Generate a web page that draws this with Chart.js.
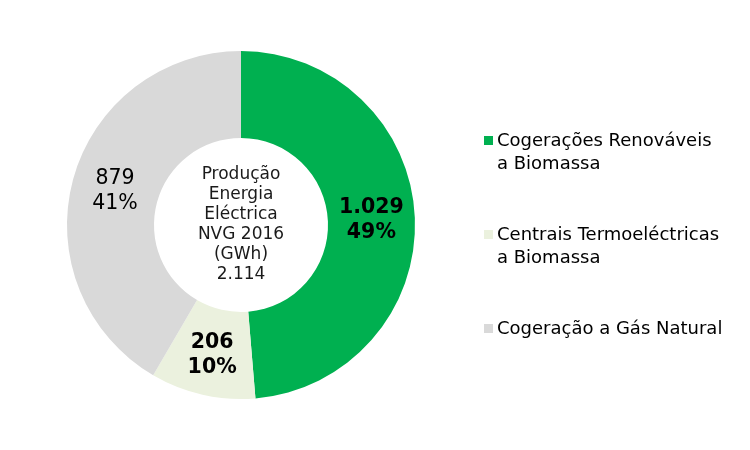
<!DOCTYPE html>
<html>
<head>
<meta charset="utf-8">
<script src="https://cdn.jsdelivr.net/npm/chart.js@4.4.0/dist/chart.umd.min.js"></script>
<style>
  body { margin: 0; background: #fff; font-family: "DejaVu Sans", Verdana, sans-serif; }
  #wrap { position: relative; width: 750px; height: 450px; }
  #legend { position: absolute; left: 484px; top: 128px; font-size: 18px; color: #000; }
  #legend .item { position: relative; padding-left: 13px; line-height: 23px; margin-bottom: 48px; }
  #legend .box { position: absolute; left: 0; top: 8px; width: 9px; height: 9px; }
</style>
</head>
<body>
<div id="wrap">
  <canvas id="nvgchart" width="750" height="450"></canvas>
  <div id="legend"></div>
</div>
<script>
var labels = [
    ['Cogerações Renováveis', 'a Biomassa'],
    ['Centrais Termoeléctricas', 'a Biomassa'],
    ['Cogeração a Gás Natural']
]
var values = [1029, 206, 879]
var percents = [49, 10, 41]
var colors = ['#00B050', '#EBF1DE', '#D9D9D9']
var centerText = ['Produção', 'Energia', 'Eléctrica', 'NVG 2016', '(GWh)', '2.114']

function fmt(n) {
    return n.toString().replace(/\B(?=(\d{3})+(?!\d))/g, '.')
}

// legend in HTML, multi-line labels
var legendHtml = ''
labels.forEach(function (l, i) {
    legendHtml += '<div class="item"><span class="box" style="background:' + colors[i] + '"></span>' + l.join('<br>') + '</div>'
})
document.getElementById('legend').innerHTML = legendHtml

var sliceLabels = {
    id: 'sliceLabels',
    afterDatasetsDraw: function (chart) {
        var ctx = chart.ctx
        var meta = chart.getDatasetMeta(0)
        var bold = [true, true, false]
        var shiftY = [0, 2, 0]
        ctx.save()
        ctx.textAlign = 'center'
        ctx.textBaseline = 'middle'
        ctx.fillStyle = '#000'
        meta.data.forEach(function (arc, i) {
            var p = arc.tooltipPosition()
            ctx.font = (bold[i] ? 'bold ' : '') + '20.5px "DejaVu Sans", Verdana, sans-serif'
            ctx.fillText(fmt(values[i]), p.x, p.y - 12 + shiftY[i])
            ctx.fillText(percents[i] + '%', p.x, p.y + 13 + shiftY[i])
        })
        // centre text
        var cx = meta.data[0].x, cy = meta.data[0].y
        ctx.font = '17px "DejaVu Sans", Verdana, sans-serif'
        ctx.fillStyle = '#1a1a1a'
        centerText.forEach(function (t, j) {
            ctx.fillText(t, cx, cy - 50 + j * 20)
        })
        ctx.restore()
    }
}

var donutCanvas = document.getElementById('nvgchart').getContext('2d')
new Chart(donutCanvas, {
    type: 'doughnut',
    data: {
        labels: labels.map(function (l) { return l.join(' ') }),
        datasets: [
            {
                data: values,
                backgroundColor: colors,
                borderWidth: 0
            }
        ]
    },
    options: {
        responsive: false,
        animation: false,
        cutout: '50%',
        layout: { padding: { left: 67, right: 335, top: 51, bottom: 51 } },
        plugins: {
            legend: { display: false },
            tooltip: { enabled: false }
        }
    },
    plugins: [sliceLabels]
})
</script>
</body>
</html>
